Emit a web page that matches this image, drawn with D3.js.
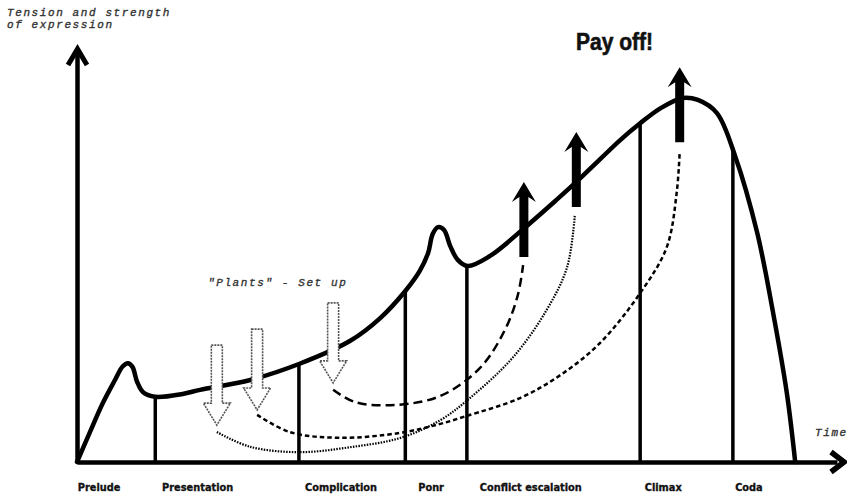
<!DOCTYPE html>
<html>
<head>
<meta charset="utf-8">
<script src="https://cdn.jsdelivr.net/npm/d3@7"></script>
<style>
  body { margin: 0; background: #fff; }
</style>
</head>
<body>
<div id="chart"></div>
<script>
// story stages along the time axis
var stages = ["Prelude", "Presentation", "Complication", "Ponr", "Conflict escalation", "Climax", "Coda"];
var stageStart = [0, 10.3, 29.2, 43.2, 51.3, 74.1, 86.3];
var labelTime = [0.1, 11.2, 30.0, 44.9, 53.0, 74.7, 86.6];

// tension curve, [time, tension]
var tension = [
  [0, 0], [1.7, 7.3], [3.4, 14.4], [5.0, 20.0], [6.0, 23.3], [6.7, 24.1], [7.3, 23.2],
  [7.9, 19.6], [8.7, 17.0], [10.3, 15.9], [13.9, 16.6], [16.2, 17.6],
  [22.8, 20.0], [29.2, 23.9], [35.9, 29.5], [39.9, 35.1], [43.2, 41.7], [45.1, 46.6],
  [46.2, 51.0], [46.8, 55.6], [47.5, 57.3], [48.3, 56.6], [49.1, 52.7], [50.1, 49.3],
  [51.4, 47.8], [54.3, 50.2], [58.7, 56.8], [63.2, 64.1], [65.7, 68.3], [68.8, 73.8],
  [71.4, 78.4], [74.1, 82.6], [76.7, 86.2], [79.7, 88.8], [81.7, 88.3], [84.2, 85.1],
  [86.6, 74.6], [89.5, 55.9], [91.6, 36.3], [93.4, 16.8], [94.5, 0]
];

// plants (hollow down arrows): time, top, tip
var plantTime = [18.4, 23.7, 33.7];
var plantTop = [28.5, 32.4, 38.8];
var plantTip = [9.0, 12.7, 19.3];

// pay offs (solid up arrows): time, base, tip
var payoffTime = [58.8, 65.7, 79.3];
var payoffBase = [50.0, 62.2, 78.0];
var payoffTip = [68.3, 80.5, 96.3];

// links from plant to pay off
var linkDotted = [[18.4, 7.3], [22.8, 3.7], [29.3, 2.4], [35.9, 3.6], [42.6, 5.9], [47.8, 10.2],
  [51.7, 15.6], [57.4, 25.6], [61.8, 37.1], [64.5, 47.6], [65.5, 60.2]];
var linkShortDash = [[23.7, 11.5], [28.0, 7.3], [34.6, 5.9], [42.5, 7.1], [47.8, 9.3], [51.2, 11.2],
  [58.3, 15.6], [63.6, 21.2], [68.8, 29.0], [74.1, 41.2], [77.6, 52.4], [78.9, 65.6], [79.3, 75.6]];
var linkLongDash = [[33.7, 17.6], [36.6, 14.6], [41.8, 13.9], [47.8, 16.1], [53.0, 22.9],
  [56.3, 32.2], [58.0, 40.7], [58.7, 48.0]];

var width = 847, height = 494;

var svg = d3.select('#chart')
  .append('svg')
  .attr('width', width)
  .attr('height', height)
  .style('display', 'block');

var x = d3.scaleLinear().domain([0, 100]).range([77, 837]);
var y = d3.scaleLinear().domain([0, 100]).range([462, 52]);

var line = d3.line()
  .x(function(d) { return x(d[0]); })
  .y(function(d) { return y(d[1]); })
  .curve(d3.curveCatmullRom.alpha(0.5));

//axes without ticks, thick strokes
svg.append('g')
  .attr('transform', 'translate(0,' + y(0) + ')')
  .call(d3.axisBottom(x).tickValues([]).tickSizeOuter(0));
svg.append('g')
  .attr('transform', 'translate(' + x(0) + ',0)')
  .call(d3.axisLeft(y).tickValues([]).tickSizeOuter(0));
svg.selectAll('.domain')
  .attr('stroke', '#000')
  .attr('stroke-width', 4.5);

//arrow chevrons on the axes
svg.append('path')
  .attr('d', 'M' + (x(0) - 9) + ',' + (y(100) + 13) + 'L' + (x(0) + 0.5) + ',' + (y(100) - 3) + 'L' + (x(0) + 10) + ',' + (y(100) + 13))
  .attr('fill', 'none').attr('stroke', '#000').attr('stroke-width', 5);
svg.append('path')
  .attr('d', 'M' + (x(100) - 6) + ',' + (y(0) - 10) + 'L' + (x(100) + 7) + ',' + y(0) + 'L' + (x(100) - 6) + ',' + (y(0) + 10))
  .attr('fill', 'none').attr('stroke', '#000').attr('stroke-width', 5.5);

//tension curve
var tensionPath = svg.append('path')
  .datum(tension)
  .attr('d', line)
  .attr('fill', 'none')
  .attr('stroke', '#000')
  .attr('stroke-width', 4.5)
  .attr('stroke-linecap', 'round');

var pathNode = tensionPath.node();
var total = pathNode.getTotalLength();
function curveYAt(px) {
  var lo = 0, hi = total;
  for (var i = 0; i < 40; i++) {
    var mid = (lo + hi) / 2;
    if (pathNode.getPointAtLength(mid).x < px) lo = mid; else hi = mid;
  }
  return pathNode.getPointAtLength(lo).y;
}

//stage boundaries
svg.selectAll('.stage-line')
  .data(stageStart.slice(1))
  .enter()
  .append('line')
  .attr('class', 'stage-line')
  .attr('x1', function(d) { return x(d); })
  .attr('x2', function(d) { return x(d); })
  .attr('y1', function(d) { return curveYAt(x(d)); })
  .attr('y2', y(0))
  .attr('stroke', '#000')
  .attr('stroke-width', 3.5);

//stage labels
svg.selectAll('.stage-label')
  .data(stages)
  .enter()
  .append('text')
  .attr('class', 'stage-label')
  .attr('x', function(d, i) { return x(labelTime[i]); })
  .attr('y', 491)
  .attr('font-family', 'DejaVu Sans, sans-serif')
  .attr('font-weight', 'bold')
  .attr('font-size', 9.8)
  .attr('fill', '#111')
  .attr('stroke', '#111')
  .attr('stroke-width', 0.3)
  .text(function(d) { return d; });

//links
function drawLink(data, dash, w) {
  svg.append('path')
    .datum(data)
    .attr('d', line)
    .attr('fill', 'none')
    .attr('stroke', '#000')
    .attr('stroke-width', w)
    .attr('stroke-dasharray', dash);
}
drawLink(linkDotted, '1.5,1.3', 2.2);
drawLink(linkShortDash, '4.5,3', 2.5);
drawLink(linkLongDash, '9,5', 2.5);

//plants: hollow dotted down arrows
var plants = plantTime.map(function(t, i) { return {t: t, top: plantTop[i], tip: plantTip[i]}; });
svg.selectAll('.plant')
  .data(plants)
  .enter()
  .append('path')
  .attr('class', 'plant')
  .attr('d', function(d) {
    var cx = x(d.t), top = y(d.top), tip = y(d.tip), sh = 5.5, hh = 13.5, hl = 22;
    return 'M' + (cx - sh) + ',' + top + 'L' + (cx + sh) + ',' + top +
      'L' + (cx + sh) + ',' + (tip - hl) + 'L' + (cx + hh) + ',' + (tip - hl) +
      'L' + cx + ',' + tip + 'L' + (cx - hh) + ',' + (tip - hl) +
      'L' + (cx - sh) + ',' + (tip - hl) + 'Z';
  })
  .attr('fill', '#fff')
  .attr('stroke', '#555')
  .attr('stroke-width', 1.6)
  .attr('stroke-dasharray', '2,1');

//pay offs: solid up arrows
var payoffs = payoffTime.map(function(t, i) { return {t: t, base: payoffBase[i], tip: payoffTip[i]}; });
svg.selectAll('.payoff')
  .data(payoffs)
  .enter()
  .append('path')
  .attr('class', 'payoff')
  .attr('d', function(d) {
    var cx = x(d.t), base = y(d.base), tip = y(d.tip), sh = 4.5, hh = 12, hl = 20, notch = 5;
    return 'M' + cx + ',' + tip + 'L' + (cx + hh) + ',' + (tip + hl) +
      'L' + (cx + sh) + ',' + (tip + hl - notch) + 'L' + (cx + sh) + ',' + base +
      'L' + (cx - sh) + ',' + base + 'L' + (cx - sh) + ',' + (tip + hl - notch) +
      'L' + (cx - hh) + ',' + (tip + hl) + 'Z';
  })
  .attr('fill', '#000');

//annotations
var mono = svg.append('g')
  .attr('font-family', 'Liberation Mono, monospace')
  .attr('font-style', 'italic')
  .attr('font-size', 11)
  .attr('letter-spacing', 1.6)
  .attr('fill', '#333')
  .attr('stroke', '#333')
  .attr('stroke-width', 0.35);
mono.append('text').attr('x', 7).attr('y', 16).text('Tension and strength');
mono.append('text').attr('x', 7).attr('y', 28).text('of expression');
mono.append('text').attr('x', 208).attr('y', 286).text('"Plants" - Set up');
mono.append('text').attr('x', 815).attr('y', 436).text('Time');

svg.append('text')
  .attr('x', 576)
  .attr('y', 50)
  .attr('font-family', 'Liberation Sans Narrow, Liberation Sans, sans-serif')
  .attr('font-weight', 'bold')
  .attr('font-size', 23)
  .attr('textLength', 77)
  .attr('lengthAdjust', 'spacingAndGlyphs')
  .attr('fill', '#111')
  .attr('stroke', '#111')
  .attr('stroke-width', 0.6)
  .text('Pay off!');
</script>
</body>
</html>
